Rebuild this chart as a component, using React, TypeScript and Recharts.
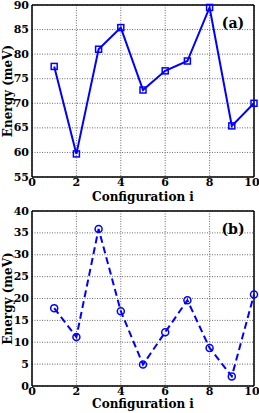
import React from "react";
import {
  LineChart,
  Line,
  XAxis,
  YAxis,
  CartesianGrid,
  ReferenceLine,
  Label,
} from "recharts";

const configs = [1, 2, 3, 4, 5, 6, 7, 8, 9, 10];
const energyA = [77.5, 59.7, 81.0, 85.4, 72.7, 76.6, 78.6, 89.5, 65.4, 70.0];
const energyB = [17.8, 11.2, 35.9, 17.1, 4.9, 12.3, 19.6, 8.7, 2.2, 20.9];
const xTicks = [0, 2, 4, 6, 8, 10];
const yTicksA = [55, 60, 65, 70, 75, 80, 85, 90];
const yTicksB = [0, 5, 10, 15, 20, 25, 30, 35, 40];

const BLUE = "#0000ff";
const FONT = "'DejaVu Serif', 'Liberation Serif', serif";

const dataA = configs.map((c, i) => ({ i: c, e: energyA[i] }));
const dataB = configs.map((c, i) => ({ i: c, e: energyB[i] }));

const SquareDot = (props: any) => {
  const { cx, cy, index } = props;
  return (
    <rect
      key={`sq-${index}`}
      x={cx - 3}
      y={cy - 3}
      width={6}
      height={6}
      fill="none"
      stroke={BLUE}
      strokeWidth={1.5}
    />
  );
};

const CircleDot = (props: any) => {
  const { cx, cy, index } = props;
  return (
    <circle
      key={`ci-${index}`}
      cx={cx}
      cy={cy}
      r={3.5}
      fill="none"
      stroke={BLUE}
      strokeWidth={1.5}
    />
  );
};

const TickText = (props: any) => {
  const { x, y, payload, textAnchor, verticalAnchor } = props;
  const isX = verticalAnchor === "start";
  // keep the last x label inside the picture, as in the original
  const shift = isX && payload.value === 10 ? -2 : 0;
  return (
    <text
      x={x + shift}
      y={y}
      textAnchor={textAnchor}
      dominantBaseline={isX ? "hanging" : "central"}
      fontFamily={FONT}
      fontWeight={700}
      fontSize={11}
      fill="#000"
    >
      {payload.value}
    </text>
  );
};

const xLabel = (dy: number) => (props: any) => {
  const vb = props.viewBox;
  return (
    <text
      x={vb.x + vb.width / 2}
      y={vb.y + dy}
      textAnchor="middle"
      dominantBaseline="central"
      fontFamily={FONT}
      fontWeight={700}
      fontSize={12}
      fill="#000"
    >
      Configuration i
    </text>
  );
};

const yLabel = (props: any) => {
  const vb = props.viewBox;
  const cy = vb.y + vb.height / 2;
  return (
    <text
      x={8}
      y={cy}
      transform={`rotate(-90, 8, ${cy})`}
      textAnchor="middle"
      dominantBaseline="central"
      fontFamily={FONT}
      fontWeight={700}
      fontSize={12}
      fill="#000"
    >
      Energy (meV)
    </text>
  );
};

interface PanelProps {
  data: { i: number; e: number }[];
  height: number;
  xAxisHeight: number;
  yDomain: [number, number];
  yTicks: number[];
  tag: string;
  labelDy: number;
  dashed?: boolean;
}

const Panel: React.FC<PanelProps> = ({
  data,
  height,
  xAxisHeight,
  yDomain,
  yTicks,
  tag,
  labelDy,
  dashed,
}) => (
  <LineChart
    width={259}
    height={height}
    data={data}
    margin={{ top: 5, right: 5, bottom: 0, left: 0 }}
  >
    <CartesianGrid stroke="#444" strokeDasharray="1 1.5" strokeWidth={0.8} />
    <XAxis
      dataKey="i"
      type="number"
      domain={[0, 10]}
      ticks={xTicks}
      height={xAxisHeight}
      tickLine={false}
      tickSize={0}
      tickMargin={1}
      axisLine={{ stroke: "#000", strokeWidth: 1.5 }}
      tick={<TickText />}
      interval={0}
    >
      <Label content={xLabel(labelDy)} />
    </XAxis>
    <YAxis
      type="number"
      domain={yDomain}
      ticks={yTicks}
      width={32}
      tickLine={false}
      tickSize={0}
      tickMargin={3}
      axisLine={{ stroke: "#000", strokeWidth: 1.5 }}
      tick={<TickText />}
      interval={0}
    >
      <Label content={yLabel} />
    </YAxis>
    <ReferenceLine y={yDomain[1]} stroke="#000" strokeWidth={1.5} />
    <ReferenceLine x={10} stroke="#000" strokeWidth={1.5} />
    <Line
      type="linear"
      dataKey="e"
      stroke={BLUE}
      strokeWidth={2}
      strokeDasharray={dashed ? "7 4" : undefined}
      dot={dashed ? CircleDot : SquareDot}
      isAnimationActive={false}
    />
    <text
      x={233}
      y={23}
      textAnchor="middle"
      dominantBaseline="central"
      fontFamily={FONT}
      fontWeight={700}
      fontSize={14}
      fill="#000"
    >
      {tag}
    </text>
  </LineChart>
);

export default function App() {
  return (
    <div style={{ position: "absolute", left: 0, top: 0, width: 259, height: 413, background: "#fff" }}>
      <Panel
        data={dataA}
        height={206}
        xAxisHeight={29}
        yDomain={[55, 90]}
        yTicks={yTicksA}
        tag="(a)"
        labelDy={20}
      />
      <Panel
        data={dataB}
        height={207}
        xAxisHeight={27}
        yDomain={[0, 40]}
        yTicks={yTicksB}
        tag="(b)"
        labelDy={18}
        dashed
      />
    </div>
  );
}
